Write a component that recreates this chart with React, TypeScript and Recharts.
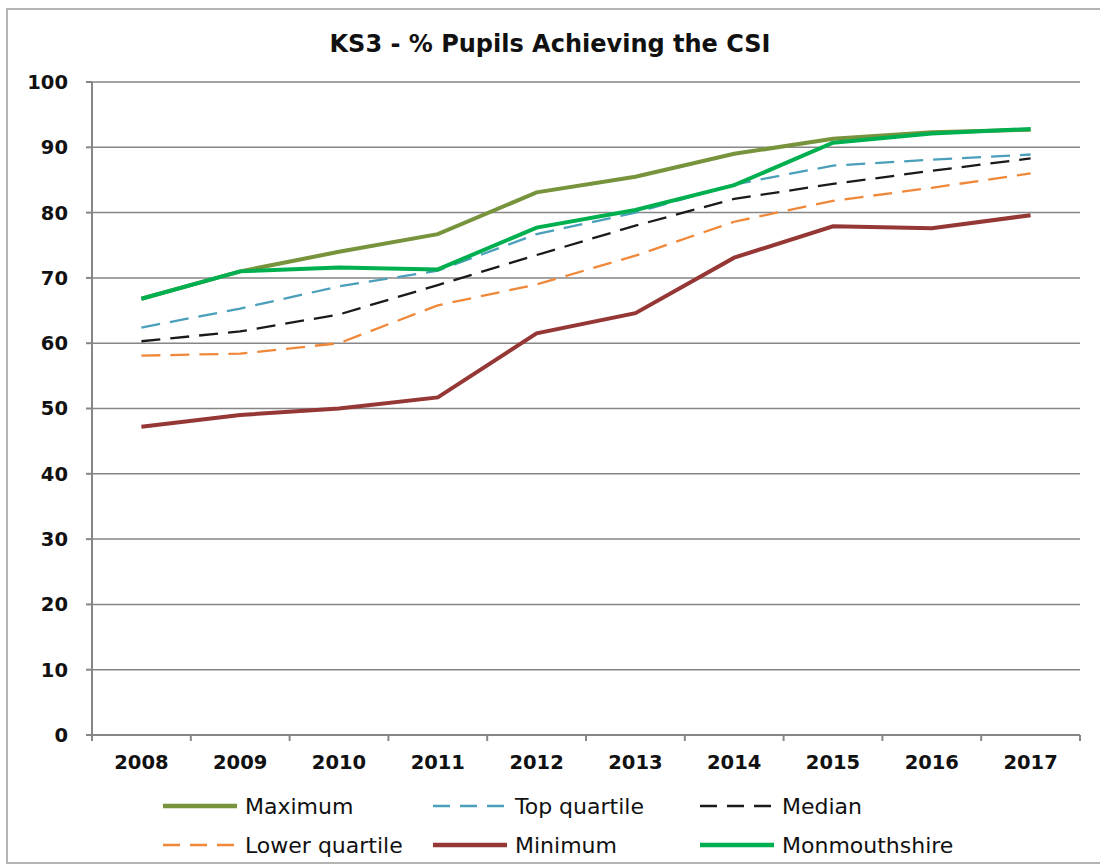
import React from 'react';
import { LineChart, Line, XAxis, YAxis, CartesianGrid, Legend } from 'recharts';

const TITLE = 'KS3 - % Pupils Achieving the CSI';
const YEARS = ['2008', '2009', '2010', '2011', '2012', '2013', '2014', '2015', '2016', '2017'];
const Y_TICKS = [0, 10, 20, 30, 40, 50, 60, 70, 80, 90, 100];

const MAXIMUM = [66.8, 71.0, 74.0, 76.7, 83.1, 85.5, 89.0, 91.3, 92.3, 92.7];
const TOP_QUARTILE = [62.4, 65.3, 68.7, 71.1, 76.7, 80.0, 84.3, 87.2, 88.1, 88.9];
const MEDIAN = [60.3, 61.8, 64.4, 68.9, 73.5, 78.0, 82.1, 84.4, 86.4, 88.3];
const LOWER_QUARTILE = [58.1, 58.4, 60.0, 65.8, 69.0, 73.4, 78.6, 81.8, 83.8, 86.0];
const MINIMUM = [47.2, 49.0, 50.0, 51.7, 61.5, 64.6, 73.1, 77.9, 77.6, 79.6];
const MONMOUTHSHIRE = [66.8, 71.0, 71.6, 71.3, 77.7, 80.4, 84.2, 90.7, 92.1, 92.8];

const SERIES = [
  { key: 'max', name: 'Maximum', values: MAXIMUM, color: '#77933C', width: 4, dash: undefined as string | undefined },
  { key: 'top', name: 'Top quartile', values: TOP_QUARTILE, color: '#4A9FBA', width: 2.3, dash: '19 10' },
  { key: 'med', name: 'Median', values: MEDIAN, color: '#1A1A1A', width: 2.3, dash: '19 10' },
  { key: 'low', name: 'Lower quartile', values: LOWER_QUARTILE, color: '#F0883A', width: 2.3, dash: '19 10' },
  { key: 'min', name: 'Minimum', values: MINIMUM, color: '#953735', width: 4, dash: undefined },
  { key: 'mon', name: 'Monmouthshire', values: MONMOUTHSHIRE, color: '#00B050', width: 4, dash: undefined },
];

const data = YEARS.map((year, i) => {
  const row: Record<string, any> = { year };
  SERIES.forEach((s) => { row[s.key] = s.values[i]; });
  return row;
});

const W = 1100;
const H = 867;
const MARGIN = { top: 82, right: 20, bottom: 92, left: 32 };
const Y_AXIS_W = 60;
const X_AXIS_H = 40;
const PLOT_W = W - MARGIN.left - MARGIN.right - Y_AXIS_W;
const STEP = PLOT_W / YEARS.length;
const AXIS_GRAY = '#868686';
const FONT = '"DejaVu Sans", Verdana, sans-serif';

const XTick = (props: any) => {
  const { x, y, payload, index } = props;
  const axisY = y - 20;
  return (
    <g>
      <line x1={x - STEP / 2} x2={x - STEP / 2} y1={axisY} y2={axisY + 6} stroke={AXIS_GRAY} strokeWidth={2} />
      {index === YEARS.length - 1 && (
        <line x1={x + STEP / 2} x2={x + STEP / 2} y1={axisY} y2={axisY + 6} stroke={AXIS_GRAY} strokeWidth={2} />
      )}
      <text x={x} y={y} dy="0.71em" textAnchor="middle" fill="#111" fontFamily={FONT} fontWeight="bold" fontSize={19.5}>
        {payload.value}
      </text>
    </g>
  );
};

const LEGEND_COL_X = [163, 433, 700];

const renderLegend = () => {
  return (
    <div style={{ position: 'relative', width: W, height: 80 }}>
      {SERIES.map((s, i) => {
        const col = i % 3;
        const row = Math.floor(i / 3);
        return (
          <div
            key={s.key}
            style={{
              position: 'absolute',
              left: LEGEND_COL_X[col],
              top: row * 39,
              height: 30,
              display: 'flex',
              alignItems: 'center',
              whiteSpace: 'nowrap',
            }}
          >
            <svg width={74} height={10} style={{ display: 'block' }}>
              <line
                x1={0}
                x2={74}
                y1={5}
                y2={5}
                stroke={s.color}
                strokeWidth={s.dash ? 2.5 : 4.5}
                strokeDasharray={s.dash ? '17 10' : undefined}
              />
            </svg>
            <span style={{ marginLeft: 8, fontFamily: FONT, fontSize: 22, color: '#111' }}>{s.name}</span>
          </div>
        );
      })}
    </div>
  );
};

export default function App() {
  return (
    <div style={{ position: 'absolute', left: 0, top: 0, width: W, height: H, overflow: 'hidden', background: '#fff' }}>
      <div
        style={{
          position: 'absolute',
          left: 6,
          top: 8,
          width: W + 20,
          height: H - 11,
          border: '2px solid #b4b4b4',
          boxSizing: 'border-box',
        }}
      />
      <div
        style={{
          position: 'absolute',
          left: 0,
          top: 31,
          width: W,
          textAlign: 'center',
          fontFamily: FONT,
          fontWeight: 'bold',
          fontSize: 24,
          lineHeight: '26px',
          color: '#111',
        }}
      >
        {TITLE}
      </div>
      <div style={{ position: 'absolute', left: 0, top: 0 }}>
        <LineChart width={W} height={H} data={data} margin={MARGIN}>
          <CartesianGrid horizontal vertical={false} stroke={AXIS_GRAY} strokeWidth={1.5} />
          <XAxis
            dataKey="year"
            height={X_AXIS_H}
            padding={{ left: STEP / 2, right: STEP / 2 }}
            axisLine={{ stroke: AXIS_GRAY, strokeWidth: 2 }}
            tickLine={false}
            tickSize={6}
            tickMargin={14}
            tick={<XTick />}
            interval={0}
          />
          <XAxis
            xAxisId="top"
            dataKey="year"
            orientation="top"
            height={0}
            padding={{ left: STEP / 2, right: STEP / 2 }}
            axisLine={{ stroke: '#1a1a1a', strokeWidth: 2 }}
            tick={false}
            tickLine={false}
          />
          <YAxis
            width={Y_AXIS_W}
            domain={[0, 100]}
            ticks={Y_TICKS}
            interval={0}
            axisLine={{ stroke: AXIS_GRAY, strokeWidth: 2 }}
            tickLine={{ stroke: AXIS_GRAY, strokeWidth: 2 }}
            tickSize={6}
            tickMargin={18}
            tick={{ fill: '#111', fontFamily: FONT, fontWeight: 'bold', fontSize: 19.5 }}
          />
          <YAxis
            yAxisId="right"
            orientation="right"
            width={0}
            domain={[0, 100]}
            axisLine={{ stroke: '#1a1a1a', strokeWidth: 2 }}
            tick={false}
            tickLine={false}
          />
          {SERIES.map((s) => (
            <Line
              key={s.key}
              type="linear"
              dataKey={s.key}
              name={s.name}
              stroke={s.color}
              strokeWidth={s.width}
              strokeDasharray={s.dash}
              dot={false}
              activeDot={false}
              isAnimationActive={false}
            />
          ))}
          <Legend
            layout="horizontal"
            verticalAlign="middle"
            align="center"
            content={renderLegend}
            wrapperStyle={{ top: 791, left: 0, width: W, height: 80 }}
          />
        </LineChart>
      </div>
    </div>
  );
}
